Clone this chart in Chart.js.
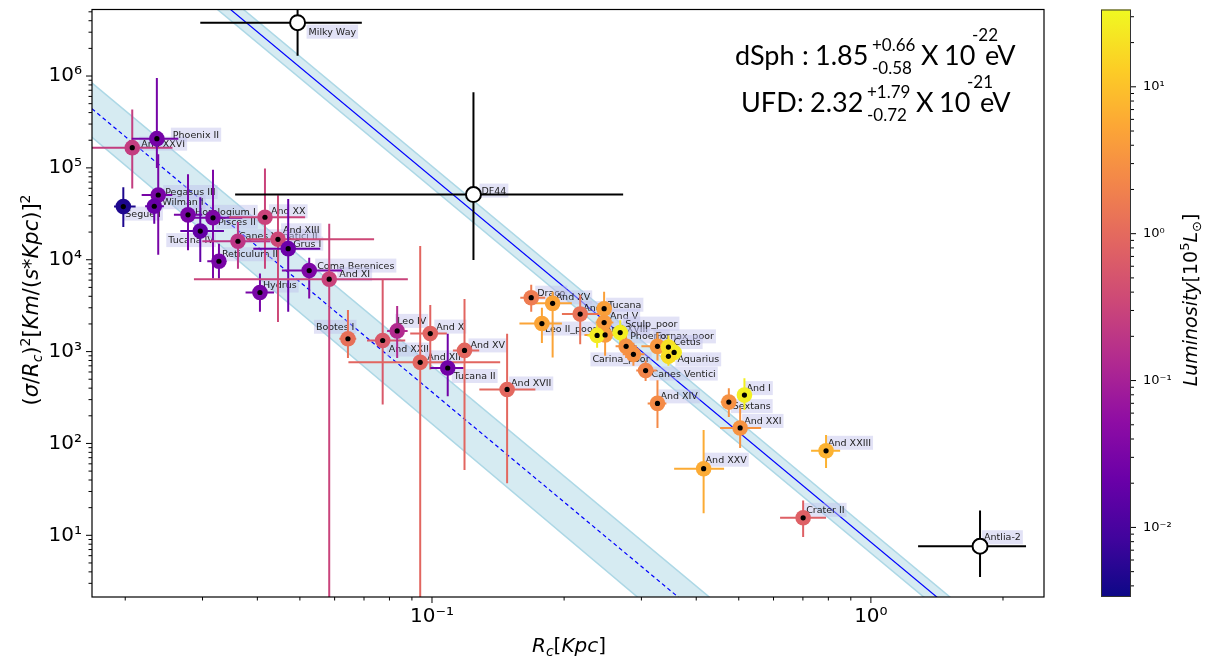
<!DOCTYPE html>
<html>
<head>
<meta charset="utf-8">
<script src="https://cdn.jsdelivr.net/npm/chart.js@4.4.1/dist/chart.umd.min.js"></script>
<style>
  html, body { margin: 0; padding: 0; background: #fff; }
</style>
</head>
<body>
<canvas id="chart" width="1209" height="667"></canvas>
<script>
// Dwarf galaxies: core radius Rc [kpc] against (sigma/Rc)^2, coloured by luminosity [1e5 Lsun]
const names = ['Segue I', 'And XXVI', 'Phoenix II', 'Pegasus III', 'Wilman I', 'Horologium I', 'Pisces II',
  'Tucana IV', 'Reticulum II', 'Canes Venatici II', 'And XX', 'And XIII', 'Grus I', 'Hydrus', 'Coma Berenices',
  'And XI', 'Bootes I', 'And XXII', 'Leo IV', 'And X', 'And XII', 'Tucana II', 'And XV', 'And XVII',
  'Draco', 'And XV', 'Leo II_poor', 'And II', 'Tucana', 'And V', 'And XVIII', '', 'Sculp_poor', 'Phoenix',
  'Carina_poor', 'Fornax_poor', 'Cetus', '', 'Aquarius', 'Canes Ventici', 'And XIV', 'Sextans', 'And I',
  'And XXI', 'And XXV', 'And XXIII', 'Crater II'];
const rc = [0.0198, 0.02075, 0.02361, 0.02378, 0.02329, 0.0278, 0.0317, 0.02965, 0.0327, 0.03613, 0.04163,
  0.04457, 0.04703, 0.04055, 0.05251, 0.05832, 0.06434, 0.0772, 0.0833, 0.0991, 0.094, 0.1086, 0.1186, 0.1483,
  0.1683, 0.1883, 0.178, 0.2176, 0.2467, 0.2467, 0.248, 0.2378, 0.2684, 0.2769, 0.2877, 0.3264, 0.3457, 0.3562,
  0.3457, 0.3067, 0.3264, 0.4746, 0.5151, 0.5036, 0.4158, 0.7904, 0.7009];
const rcLo = [0.01886, 0.015, 0.0207, 0.0218, 0.0222, 0.02582, 0.02843, 0.0267, 0.03076, 0.02996, 0.0345,
  0.0378, 0.03916, 0.0376, 0.0455, 0.02868, 0.0615, 0.0711, 0.079, 0.0892, 0.0645, 0.0991, 0.1116, 0.1282,
  0.1589, 0.1686, 0.1582, 0.1977, 0.237, 0.236, 0.2225, 0.226, 0.258, 0.262, 0.272, 0.3, 0.33, 0.345,
  0.335, 0.292, 0.31, 0.455, 0.5, 0.4534, 0.3562, 0.7307, 0.621];
const rcHi = [0.02112, 0.02563, 0.02642, 0.0256, 0.0245, 0.02996, 0.03696, 0.03357, 0.0338, 0.0428, 0.0514,
  0.0738, 0.05563, 0.04365, 0.06234, 0.0881, 0.0672, 0.0869, 0.088, 0.1081, 0.143, 0.118, 0.1281, 0.172,
  0.1811, 0.2083, 0.1977, 0.2415, 0.257, 0.259, 0.2684, 0.25, 0.28, 0.293, 0.305, 0.35, 0.36, 0.37,
  0.36, 0.325, 0.342, 0.49, 0.53, 0.5623, 0.4629, 0.851, 0.7904];
const sr = [3.79e4, 1.66e5, 2.08e5, 5.07e4, 3.82e4, 3.08e4, 2.86e4, 2.05e4, 9.63e3, 1.59e4, 2.9e4,
  1.67e4, 1.32e4, 4.4e3, 7.62e3, 6.15e3, 1.38e3, 1.32e3, 1.68e3, 1.57e3, 764, 663, 1.03e3, 387,
  3.86e3, 3.35e3, 2.02e3, 2.56e3, 2.93e3, 2.07e3, 1.52e3, 1.5e3, 1.61e3, 1.14e3, 933, 1.14e3, 1.12e3, 980,
  888, 621, 273, 282, 336, 147.5, 53.1, 83.2, 15.5];
const srLo = [2.27e4, 5.98e4, 1.0e5, 1.13e4, 2.46e4, 1.27e4, 6.25e3, 9.47e3, 6.25e3, 8.0e3, 8.0e3,
  2.1e3, 2.72e3, 2.72e3, 3.79e3, 1, 851, 266, 851, 637, 1, 327, 51.4, 36.8,
  2.72e3, 865, 1.24e3, 1.2e3, 2.12e3, 1.3e3, 900, 1.1e3, 1.2e3, 850, 700, 800, 850, 780,
  700, 480, 147.5, 194, 231, 89, 17.4, 54, 9.59];
const srHi = [6.14e4, 4.32e5, 9.5e5, 1.41e5, 5.6e4, 8.55e4, 9.54e4, 4.78e4, 1.49e4, 2.57e4, 9.85e4,
  5.03e4, 4.58e4, 7.07e3, 1.05e4, 2.46e4, 2.84e3, 6.06e3, 3.14e3, 3.22e3, 1.41e4, 1.56e3, 3.74e3, 1.56e3,
  5.34e3, 4.48e3, 3.01e3, 4.16e3, 4.48e3, 2.93e3, 2.7e3, 2.0e3, 2.2e3, 1.5e3, 1.25e3, 1.6e3, 1.5e3, 1.25e3,
  1.1e3, 800, 488, 400, 513, 245, 140.4, 123.9, 23.9];
const lum = [0.0045, 0.25, 0.028, 0.03, 0.02, 0.03, 0.035, 0.018, 0.03, 0.2, 0.3,
  0.35, 0.022, 0.03, 0.035, 0.3, 1.2, 0.6, 0.14, 0.85, 0.9, 0.025, 0.9, 0.95,
  1.7, 5, 5, 1.3, 4.5, 4, 4, 25, 27, 3, 3, 3.5, 20, 25,
  18, 2.2, 2.5, 3, 28, 3.2, 6, 7, 0.75];
// name tag offsets from the marker, px
const tagDx = [2, 9, 16, 7, 8, 7, 5, -32, 3, 1, 6, 5, 5, 3, 8, 10, -32, 6, 0, 6, 7, 6, 6, 4,
  6, 3, 3, 3, 4, 6, 0, 0, 5, 4, -41, -2, 5, 0, 9, 6, 3, 4, 2, 4, 2, 2, 3];
const tagDy = [7, -4, -4, -3, -4, -3, 4, 9, -7, -5, -6, -9, -5, -7, -5, -5, -12, 9, -10, -7, -5, 8, -5, -6,
  -5, -6, 5, -6, -4, -7, -6, 0, -9, -10, 5, -10, -5, 0, 3, 3, -7, 4, -7, -7, -9, -8, -8];

// Reference systems drawn as open markers
const refNames = ['Milky Way', 'DF44', 'Antlia-2'];
const refRc = [0.0494, 0.1243, 1.773];
const refRcLo = [0.02965, 0.0356, 1.281];
const refRcHi = [0.0692, 0.2726, 2.257];
const refSr = [3.81e6, 5.12e4, 7.6];
const refSrLo = [1.66e6, 9.95e3, 3.51];
const refSrHi = [1e7, 6.66e5, 18.65];
const refDx = [11, 8, 4];
const refDy = [9, -4, -9];

// Best-fit R^-4 lines and their bands (end points)
const fitX = [0.03, 1.6];
const dsphFit = [9.5e6, 1.3];
const dsphUp = [1.246e7, 1.71];
const dsphDn = [7.24e6, 0.99];
const ufdX = [0.015, 0.5];
const ufdFit = [6.9e5, 0.6];
const ufdUp = [1.32e6, 1.15];
const ufdDn = [3.4e5, 0.25];

// Axes
const xRange = [0.0168, 2.48];
const yRange = [2.13, 5.3e6];
const cbRange = [0.00336, 33.6];
const xTicks = [0.1, 1];
const yTicks = [1e1, 1e2, 1e3, 1e4, 1e5, 1e6];
const cbTicks = [1e-2, 1e-1, 1, 10];

const plasmaStops = ['#0d0887', '#41049d', '#6a00a8', '#8f0da4', '#b12a90', '#cc4778',
  '#e16462', '#f2844b', '#fca636', '#fcce25', '#f0f921'];

function hexRgb(h) {
  return [parseInt(h.slice(1, 3), 16), parseInt(h.slice(3, 5), 16), parseInt(h.slice(5, 7), 16)];
}

function plasma(t) {
  t = Math.min(1, Math.max(0, t));
  const f = t * (plasmaStops.length - 1);
  const i = Math.min(plasmaStops.length - 2, Math.floor(f));
  const a = hexRgb(plasmaStops[i]), b = hexRgb(plasmaStops[i + 1]);
  const k = f - i;
  return 'rgb(' + a.map((v, j) => Math.round(v + (b[j] - v) * k)).join(',') + ')';
}

function lumColor(L) {
  const lo = Math.log10(cbRange[0]), hi = Math.log10(cbRange[1]);
  return plasma((Math.log10(L) - lo) / (hi - lo));
}

const SUP = { '-': '\u207b', '0': '\u2070', '1': '\u00b9', '2': '\u00b2', '3': '\u00b3', '4': '\u2074',
  '5': '\u2075', '6': '\u2076', '7': '\u2077', '8': '\u2078', '9': '\u2079' };

function powerLabel(list) {
  return (v) => {
    const hit = list.find((t) => Math.abs(t - v) / t < 1e-6);
    if (hit === undefined) return '';
    return '10' + String(Math.round(Math.log10(hit))).split('').map((c) => SUP[c]).join('');
  };
}

const colors = lum.map(lumColor);
const pts = rc.map((v, i) => ({ x: v, y: sr[i] }));
const refPts = refRc.map((v, i) => ({ x: v, y: refSr[i] }));
const line = (xs, ys) => xs.map((v, i) => ({ x: v, y: ys[i] }));

// Math-style text: runs of [text, scale, shift, italic], centred on the origin
function drawRuns(ctx, runs, size, family) {
  let w = 0;
  for (const r of runs) {
    ctx.font = (r[3] ? 'italic ' : '') + Math.round(size * r[1]) + 'px ' + family;
    w += ctx.measureText(r[0]).width;
  }
  let x = -w / 2;
  for (const r of runs) {
    ctx.font = (r[3] ? 'italic ' : '') + Math.round(size * r[1]) + 'px ' + family;
    ctx.fillText(r[0], x, r[2]);
    x += ctx.measureText(r[0]).width;
  }
}

function logTicks(scale, cb) {
  const lo = Math.floor(Math.log10(scale.min)), hi = Math.ceil(Math.log10(scale.max));
  for (let e = lo; e <= hi; e++) {
    for (let s = 1; s <= 9; s++) {
      const v = s * Math.pow(10, e);
      if (v < scale.min || v > scale.max) continue;
      cb(scale.getPixelForValue(v), s === 1);
    }
  }
}

const decorations = {
  id: 'decorations',
  beforeDatasetDraw(chart, args) {
    if (args.index !== 0) return;
    const { ctx, chartArea: a, scales: { x, y } } = chart;
    ctx.save();
    ctx.beginPath();
    ctx.rect(a.left, a.top, a.right - a.left, a.bottom - a.top);
    ctx.clip();

    // name tags
    ctx.font = '9.5px "DejaVu Sans"';
    ctx.textBaseline = 'middle';
    const tag = (txt, px, py) => {
      if (!txt) return;
      const w = ctx.measureText(txt).width;
      ctx.fillStyle = 'rgba(190,190,235,0.45)';
      ctx.fillRect(px - 2, py - 7, w + 4, 14);
      ctx.fillStyle = '#222';
      ctx.fillText(txt, px, py + 0.5);
    };
    names.forEach((n, i) => tag(n, x.getPixelForValue(rc[i]) + tagDx[i], y.getPixelForValue(sr[i]) + tagDy[i]));
    refNames.forEach((n, i) => tag(n, x.getPixelForValue(refRc[i]) + refDx[i], y.getPixelForValue(refSr[i]) + refDy[i]));

    // error bars
    const bar = (cx, cy, xl, xh, yl, yh, col) => {
      const px = x.getPixelForValue(cx), py = y.getPixelForValue(cy);
      ctx.strokeStyle = col;
      ctx.lineWidth = 2;
      ctx.beginPath();
      ctx.moveTo(x.getPixelForValue(xl), py);
      ctx.lineTo(x.getPixelForValue(xh), py);
      ctx.moveTo(px, y.getPixelForValue(yl));
      ctx.lineTo(px, y.getPixelForValue(yh));
      ctx.stroke();
    };
    rc.forEach((v, i) => bar(v, sr[i], rcLo[i], rcHi[i], srLo[i], srHi[i], colors[i]));
    refRc.forEach((v, i) => bar(v, refSr[i], refRcLo[i], refRcHi[i], refSrLo[i], refSrHi[i], '#000'));
    ctx.restore();
  },
  afterDraw(chart) {
    const { ctx, chartArea: a, scales: { x, y, cb } } = chart;
    ctx.save();

    // axes frame and log ticks
    ctx.strokeStyle = '#000';
    ctx.lineWidth = 1.2;
    ctx.strokeRect(a.left, a.top, a.right - a.left, a.bottom - a.top);
    ctx.lineWidth = 1;
    ctx.beginPath();
    logTicks(x, (p, major) => { ctx.moveTo(p, a.bottom); ctx.lineTo(p, a.bottom + (major ? 6 : 3.5)); });
    logTicks(y, (p, major) => { ctx.moveTo(a.left, p); ctx.lineTo(a.left - (major ? 6 : 3.5), p); });
    ctx.stroke();

    // colour bar
    const cl = 1101, cr = 1131;
    const g = ctx.createLinearGradient(0, cb.bottom, 0, cb.top);
    plasmaStops.forEach((c, i) => g.addColorStop(i / (plasmaStops.length - 1), c));
    ctx.fillStyle = g;
    ctx.fillRect(cl, cb.top, cr - cl, cb.bottom - cb.top);
    ctx.strokeStyle = '#333';
    ctx.lineWidth = 1;
    ctx.strokeRect(cl + 0.5, cb.top + 0.5, cr - cl - 1, cb.bottom - cb.top - 1);
    ctx.strokeStyle = '#000';
    ctx.beginPath();
    logTicks(cb, (p, major) => { ctx.moveTo(cr, p); ctx.lineTo(cr + (major ? 5 : 3), p); });
    ctx.stroke();

    // axis titles
    ctx.fillStyle = '#000';
    ctx.textBaseline = 'alphabetic';
    ctx.save();
    ctx.translate(569, 652);
    drawRuns(ctx, [['R', 1, 0, true], ['c', 0.7, 4, true], ['[', 1, 0, false], ['Kpc', 1, 0, true], [']', 1, 0, false]], 20, '"DejaVu Sans"');
    ctx.restore();

    ctx.save();
    ctx.translate(38, 300);
    ctx.rotate(-Math.PI / 2);
    drawRuns(ctx, [['(', 1, 0, false], ['\u03c3', 1, 0, true], ['/', 1, 0, false], ['R', 1, 0, true], ['c', 0.7, 4, true],
      [')', 1, 0, false], ['2', 0.7, -8, false], ['[', 1, 0, false], ['Km', 1, 0, true], ['/(', 1, 0, false],
      ['s', 1, 0, true], ['*', 1, 0, false], ['Kpc', 1, 0, true], [')]', 1, 0, false], ['2', 0.7, -8, false]], 20.5, '"DejaVu Sans"');
    ctx.restore();

    ctx.save();
    ctx.translate(1197, 300);
    ctx.rotate(-Math.PI / 2);
    drawRuns(ctx, [['Luminosity', 1, 0, true], ['[10', 1, 0, false], ['5', 0.7, -8, false], ['L', 1, 0, true],
      ['\u2299', 0.7, 4, false], [']', 1, 0, false]], 19, '"DejaVu Sans"');
    ctx.restore();

    // fitted boson masses
    const txt = (s, px, py, size) => { ctx.font = size + 'px Lato'; ctx.fillText(s, px, py); };
    txt('dSph', 735, 65, 27); txt(':', 802, 65, 27); txt('1.85', 815, 65, 27);
    txt('+0.66', 872, 51, 17); txt('-0.58', 872, 74, 17);
    txt('X', 921, 65, 27); txt('10', 944, 65, 27); txt('-22', 972, 41, 17); txt('eV', 985, 65, 27);
    txt('UFD', 741, 112, 27); txt(':', 797, 112, 27); txt('2.32', 810, 112, 27);
    txt('+1.79', 867, 98, 17); txt('-0.72', 867, 121, 17);
    txt('X', 916, 112, 27); txt('10', 939, 112, 27); txt('-21', 967, 88, 17); txt('eV', 980, 112, 27);
    ctx.restore();
  }
};

const chart = new Chart(document.getElementById('chart'), {
  type: 'scatter',
  data: {
    datasets: [
      { data: pts, pointRadius: 7.8, pointBorderWidth: 0, pointBackgroundColor: colors, order: 2 },
      { data: pts, pointRadius: 2.6, pointBorderWidth: 0, pointBackgroundColor: '#000', order: 1 },
      { data: refPts, pointRadius: 7.5, pointBorderWidth: 2, pointBorderColor: '#000', pointBackgroundColor: '#fff', order: 1 },
      { type: 'line', data: line(fitX, dsphFit), borderColor: '#0000ff', borderWidth: 1.2, pointRadius: 0, fill: false, order: 5 },
      { type: 'line', data: line(ufdX, ufdFit), borderColor: '#0000ff', borderWidth: 1.2, borderDash: [4, 3], pointRadius: 0, fill: false, order: 5 },
      { type: 'line', data: line(fitX, dsphUp), borderColor: '#add8e6', borderWidth: 1.5, pointRadius: 0,
        fill: '+1', backgroundColor: 'rgba(173,216,230,0.5)', order: 8 },
      { type: 'line', data: line(fitX, dsphDn), borderColor: '#add8e6', borderWidth: 1.5, pointRadius: 0, fill: false, order: 8 },
      { type: 'line', data: line(ufdX, ufdUp), borderColor: '#add8e6', borderWidth: 1.5, pointRadius: 0,
        fill: '+1', backgroundColor: 'rgba(173,216,230,0.5)', order: 8 },
      { type: 'line', data: line(ufdX, ufdDn), borderColor: '#add8e6', borderWidth: 1.5, pointRadius: 0, fill: false, order: 8 }
    ]
  },
  options: {
    responsive: false,
    animation: false,
    devicePixelRatio: 1,
    layout: { padding: { top: 6, right: 0, left: 0, bottom: 0 } },
    plugins: { legend: { display: false }, tooltip: { enabled: false } },
    scales: {
      x: {
        type: 'logarithmic', min: xRange[0], max: xRange[1],
        grid: { display: false, drawTicks: false }, border: { display: false },
        ticks: { autoSkip: false, maxRotation: 0, padding: 8, color: '#000',
          font: { family: 'DejaVu Sans', size: 20 }, callback: powerLabel(xTicks) },
        afterFit(s) { s.height = 70; s.paddingLeft = 0; s.paddingRight = 0; }
      },
      y: {
        type: 'logarithmic', min: yRange[0], max: yRange[1],
        grid: { display: false, drawTicks: false }, border: { display: false },
        ticks: { autoSkip: false, padding: 10, color: '#000',
          font: { family: 'DejaVu Sans', size: 20 }, callback: powerLabel(yTicks) },
        afterFit(s) { s.width = 92; s.paddingTop = 0; s.paddingBottom = 0; }
      },
      cb: {
        type: 'logarithmic', position: 'right', min: cbRange[0], max: cbRange[1],
        grid: { display: false, drawTicks: false }, border: { display: false },
        ticks: { autoSkip: false, padding: 99, color: '#000',
          font: { family: 'DejaVu Sans', size: 13 }, callback: powerLabel(cbTicks) },
        afterFit(s) { s.width = 165; s.paddingTop = 0; s.paddingBottom = 0; }
      }
    }
  },
  plugins: [decorations]
});
</script>
</body>
</html>
